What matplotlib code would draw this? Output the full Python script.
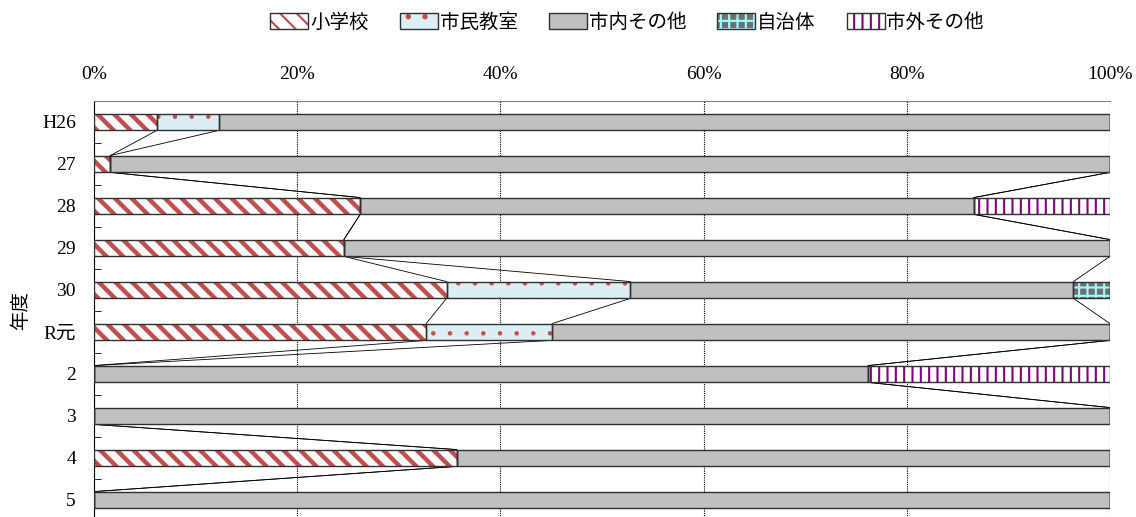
import numpy as np
import matplotlib
matplotlib.use('Agg')
import matplotlib.pyplot as plt
from matplotlib.patches import Patch
from matplotlib.legend_handler import HandlerTuple

# 年度別の割合 (%)
years = ['H26', '27', '28', '29', '30', 'R元', '2', '3', '4', '5']
shogakko = [6.2, 1.6, 26.2, 24.6, 34.7, 32.7, 0, 0, 35.7, 0]
shimin = [6.1, 0, 0, 0, 18.1, 12.4, 0, 0, 0, 0]
shinai = [87.7, 98.4, 60.4, 75.4, 43.6, 54.9, 76.2, 100, 64.3, 100]
jichitai = [0, 0, 0, 0, 3.6, 0, 0, 0, 0, 0]
shigai = [0, 0, 13.4, 0, 0, 0, 23.8, 0, 0, 0]
names = ['小学校', '市民教室', '市内その他', '自治体', '市外その他']
xticks = [0, 20, 40, 60, 80, 100]

# 塗り, ハッチ色, ハッチ, ハッチ線幅
styles = [('white', '#C0504D', '\\\\', 3.2),
          ('#DAEEF3', '#C0504D', '.', 0.8),
          ('#C0C0C0', '#C0C0C0', None, 1.0),
          ('#707070', '#9FFFFF', '++', 1.5),
          ('white', '#800080', '||', 1.5)]

plt.rcParams['hatch.linewidth'] = 1.5
serif = ['Liberation Serif', 'Noto Sans CJK JP']
jp = ['Noto Sans CJK JP', 'DejaVu Sans']

fig = plt.figure(figsize=(11.36, 5.17), dpi=100)
ax = fig.add_axes([0.0827, -0.0077, 0.8944, 0.8124])

data = np.array([shogakko, shimin, shinai, jichitai, shigai])
cum = np.cumsum(data, axis=0)
left = cum - data
y = np.arange(len(years))
h = 0.4

handles = []
for k, (fc, hc, hatch, hlw) in enumerate(styles):
    bars = ax.barh(y, data[k], left=left[k], height=h, color=fc,
                   edgecolor=hc, linewidth=0, hatch=hatch, zorder=3)
    if hasattr(bars[0], 'set_hatch_linewidth'):
        for b in bars:
            b.set_hatch_linewidth(hlw)
    ax.barh(y, data[k], left=left[k], height=h, fill=False,
            edgecolor='#303030', linewidth=1, zorder=4)
    p1 = Patch(facecolor=fc, edgecolor=hc, hatch=hatch, linewidth=0)
    if hasattr(p1, 'set_hatch_linewidth'):
        p1.set_hatch_linewidth(hlw)
    p2 = Patch(fill=False, edgecolor='#303030', linewidth=1)
    handles.append((p1, p2))

# 区分線
for i in range(len(years) - 1):
    for k in range(len(names)):
        ax.plot([cum[k, i], cum[k, i + 1]], [i + h / 2, i + 1 - h / 2],
                color='black', lw=0.6, zorder=2)

ax.set_xlim(0, 100)
ax.set_ylim(len(years) - 0.5, -0.5)
ax.xaxis.tick_top()
ax.set_xticks(xticks)
ax.set_xticklabels([f'{v}%' for v in xticks], family=serif, fontsize=14)
ax.tick_params(axis='x', length=0, pad=13)
ax.set_yticks(y)
ax.set_yticklabels(years, family=serif, fontsize=14)
ax.set_yticks(np.arange(-0.5, len(years), 1), minor=True)
ax.tick_params(axis='y', which='major', length=0, pad=13)
ax.tick_params(axis='y', which='minor', direction='in', length=5, color='black')
ax.grid(axis='x', color='black', linestyle=(0, (1, 1)), linewidth=0.8, zorder=1)
ax.set_axisbelow(True)

for s in ['right', 'bottom']:
    ax.spines[s].set_visible(False)
ax.spines['top'].set_color('#808080')
ax.spines['left'].set_color('black')

ax.set_ylabel('年度', family=jp, fontsize=14)
ax.yaxis.set_label_coords(-0.062, 0.5)

fig.legend(handles, names, loc='center', bbox_to_anchor=(0.552, 0.957),
           ncol=5, frameon=False, prop={'family': jp, 'size': 14},
           handlelength=1.95, handleheight=0.93, handletextpad=0.1,
           columnspacing=1.6,
           handler_map={tuple: HandlerTuple(ndivide=1, pad=0)})

plt.savefig('out.png', dpi=100)
